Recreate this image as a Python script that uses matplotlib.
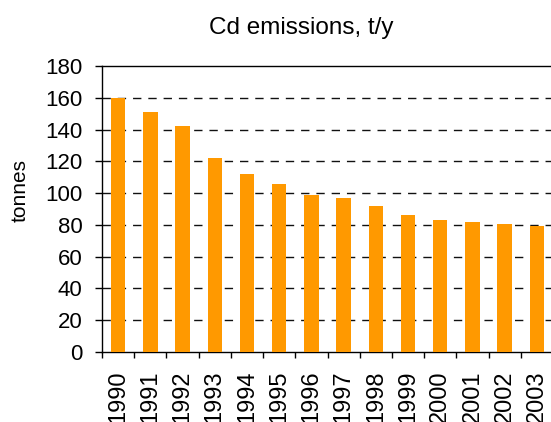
import numpy as np
import matplotlib
matplotlib.use("Agg")
from matplotlib import pyplot as plt

years = ["1990", "1991", "1992", "1993", "1994", "1995", "1996",
         "1997", "1998", "1999", "2000", "2001", "2002", "2003"]
emissions = [160, 151, 142, 122, 112, 106, 99, 97, 92, 86, 83, 82, 80.5, 79.5]
yticks = [0, 20, 40, 60, 80, 100, 120, 140, 160, 180]

plt.rcParams['font.family'] = ['Liberation Sans', 'DejaVu Sans']

fig = plt.figure(figsize=(5.51, 4.22), dpi=100)
ax = fig.add_axes([102 / 551, 70 / 422, 451 / 551, 286 / 422])

x = np.arange(len(years))
ax.bar(x, emissions, width=0.45, color='#FF9900', zorder=3)

ax.set_xlim(-0.5, len(years) - 0.5)
ax.set_ylim(0, 180)
ax.set_yticks(yticks)
ax.set_yticklabels([str(v) for v in yticks], fontsize=16)
ax.tick_params(axis='y', direction='out', length=5, width=1, pad=9)

# labels at bar centres, tick marks between categories
ax.set_xticks(x)
ax.set_xticklabels(years, rotation=90, fontsize=17)
ax.tick_params(axis='x', which='major', length=0, pad=13)
ax.set_xticks(np.arange(len(years) + 1) - 0.5, minor=True)
ax.tick_params(axis='x', which='minor', direction='out', length=4.3, width=1)

for v in yticks[1:-1]:
    ax.axhline(v, color='#111111', lw=1, dashes=(6, 5), zorder=1)

for s in ['left', 'bottom', 'top']:
    ax.spines[s].set_linewidth(1)
    ax.spines[s].set_color('black')
ax.spines['right'].set_visible(False)

ax.set_ylabel('tonnes', fontsize=15)
ax.yaxis.set_label_coords(-0.16, 0.563)

fig.text(0.546, 1 - 28 / 422, 'Cd emissions, t/y', fontsize=17.5,
         ha='center', va='center')

fig.savefig('out.png', dpi=100)
